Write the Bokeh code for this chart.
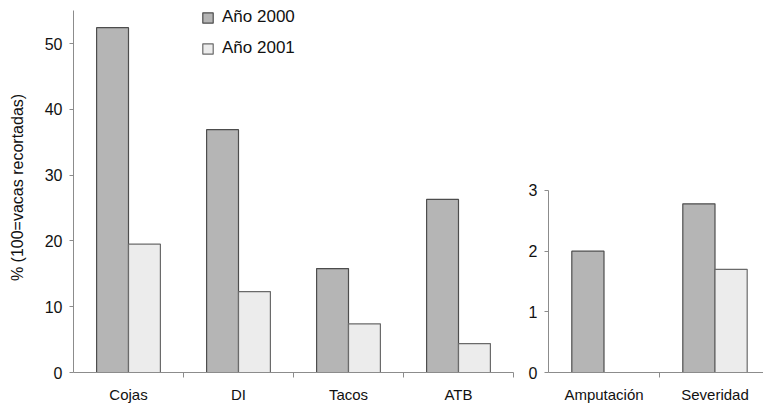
from bokeh.plotting import figure
from bokeh.models import Range1d, FixedTicker, Legend, LegendItem, ColumnDataSource
from bokeh.layouts import row
from bokeh.transform import dodge
from bokeh.embed import file_html
from bokeh.resources import INLINE

# ---- data ----
left_categories = ["Cojas", "DI", "Tacos", "ATB"]
left_2000 = [52.4, 36.9, 15.8, 26.3]
left_2001 = [19.5, 12.3, 7.4, 4.4]
left_ticks = [0, 10, 20, 30, 40, 50]
left_axis_max = 55

right_categories = ["Amputación", "Severidad"]
right_2000 = [2.0, 2.78]
right_2001 = [0.0, 1.70]
right_ticks = [0, 1, 2, 3]
right_axis_max = 3

series_labels = ["Año 2000", "Año 2001"]
y_label = "% (100=vacas recortadas)"

FONT = "Liberation Sans"
C2000 = "#b5b5b5"
C2001 = "#ececec"
L2000 = "#4d4d4d"
L2001 = "#6a6a6a"
AXIS = "#8c8c8c"
BW = 0.29


def style_axes(p, ticks_y, cats, ymax):
    n = len(cats)
    centers = [i + 0.5 for i in range(n)]
    p.xaxis.ticker = FixedTicker(ticks=centers, minor_ticks=list(range(1, n + 1)))
    p.xaxis.major_label_overrides = {c: lab for c, lab in zip(centers, cats)}
    p.xaxis.major_tick_out = 0
    p.xaxis.major_tick_in = 0
    p.xaxis.minor_tick_out = 5
    p.xaxis.minor_tick_in = 0
    p.xaxis.minor_tick_line_color = AXIS
    p.xaxis.major_label_standoff = 8
    p.xaxis.major_label_text_font = FONT
    p.xaxis.major_label_text_font_size = "15px"
    p.xaxis.major_label_text_color = "#111111"
    p.xaxis.axis_line_color = AXIS

    p.yaxis.ticker = FixedTicker(ticks=ticks_y)
    p.yaxis.bounds = (0, ymax)
    p.yaxis.major_tick_out = 4
    p.yaxis.major_tick_in = 0
    p.yaxis.minor_tick_out = 0
    p.yaxis.minor_tick_in = 0
    p.yaxis.major_tick_line_color = AXIS
    p.yaxis.axis_line_color = AXIS
    p.yaxis.major_label_standoff = 7
    p.yaxis.major_label_text_font = FONT
    p.yaxis.major_label_text_font_size = "16px"
    p.yaxis.major_label_text_color = "#111111"

    p.xgrid.visible = False
    p.ygrid.visible = False
    p.outline_line_color = None
    p.background_fill_color = "white"
    p.border_fill_color = "white"


# frame spans page y 2..372 (370 px)
# ---- left panel ----
ls = ColumnDataSource(dict(
    x=[i + 0.5 for i in range(len(left_categories))],
    a=left_2000, b=left_2001))

p1 = figure(width=520, height=406, output_backend="svg", toolbar_location=None,
            x_range=Range1d(0, 4), y_range=Range1d(0, 370 / 6.58),
            min_border_left=73, min_border_right=7, min_border_top=2,
            min_border_bottom=34)
r1 = p1.vbar(x=dodge("x", -BW / 2), top="a", width=BW, source=ls,
             fill_color=C2000, line_color=L2000, line_width=1.2)
r2 = p1.vbar(x=dodge("x", BW / 2), top="b", width=BW, source=ls,
             fill_color=C2001, line_color=L2001, line_width=1.2)
style_axes(p1, left_ticks, left_categories, left_axis_max)
p1.yaxis.axis_label = y_label
p1.yaxis.axis_label_text_font = FONT
p1.yaxis.axis_label_text_font_size = "16px"
p1.yaxis.axis_label_text_font_style = "normal"
p1.yaxis.axis_label_text_color = "#111111"
p1.yaxis.axis_label_standoff = 16

legend = Legend(items=[LegendItem(label=series_labels[0], renderers=[r1]),
                       LegendItem(label=series_labels[1], renderers=[r2])],
                location=(128, 314), padding=0, margin=0, spacing=11,
                glyph_width=13, glyph_height=13, label_height=20,
                label_standoff=8, label_text_font=FONT,
                label_text_font_size="17px", label_text_color="#111111",
                border_line_color=None, background_fill_alpha=0)
p1.add_layout(legend)

# ---- right panel ----
rs = ColumnDataSource(dict(
    x=[i + 0.5 for i in range(len(right_categories))],
    a=right_2000, b=right_2001))

p2 = figure(width=243, height=406, output_backend="svg", toolbar_location=None,
            x_range=Range1d(0, 215 / 111), y_range=Range1d(0, 370 / 60.67),
            min_border_left=28, min_border_right=0, min_border_top=2,
            min_border_bottom=34)
p2.vbar(x=dodge("x", -BW / 2), top="a", width=BW, source=rs, fill_color=C2000,
        line_color=L2000, line_width=1.2)
p2.vbar(x=dodge("x", BW / 2), top="b", width=BW, source=rs, fill_color=C2001,
        line_color=L2001, line_width=1.2)
style_axes(p2, right_ticks, right_categories, right_axis_max)
p2.xaxis.ticker = FixedTicker(ticks=[0.5, 1.5], minor_ticks=[1])

layout = row(p1, p2, spacing=0)
open("out.html", "w").write(file_html(layout, INLINE))
